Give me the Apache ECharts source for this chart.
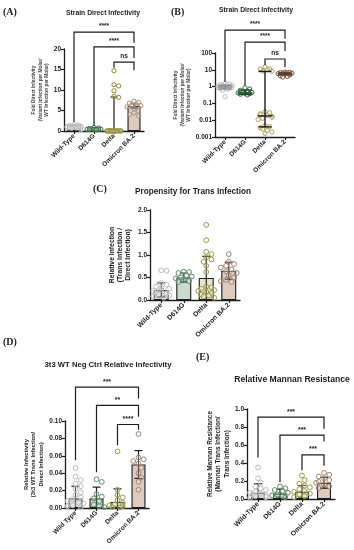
<!DOCTYPE html>
<html><head><meta charset="utf-8">
<script src="https://cdn.jsdelivr.net/npm/echarts@6/dist/echarts.min.js"></script>
<style>html,body{margin:0;padding:0;background:#fff}#c{width:354px;height:550px}</style>
</head><body><div id="c"></div>
<script>
// ---------- DATA ----------
const strains = ['Wild-Type', 'D614G', 'Delta', 'Omicron BA.2'];
const strainsD = ['Wild Type', 'D614G', 'Delta', 'Omicron BA.2'];

// Direct infectivity points (panels A & B)
const directWT = [1.55, 1.45, 1.35, 1.3, 1.2, 1.15, 1.1, 1.05, 1.0, 0.98, 0.95, 0.92, 0.9, 0.88, 0.85, 0.8, 0.75, 0.7, 0.62, 0.25];
const directD614G = [0.85, 0.72, 0.6, 0.52, 0.48, 0.45, 0.42, 0.4, 0.38, 0.35, 0.32];
const directDelta = [14.7, 11.3, 11.0, 9.8, 8.4, 8.2, 0.032, 0.028, 0.024, 0.021, 0.019, 0.017, 0.015, 0.013, 0.011, 0.0048, 0.0042, 0.0036, 0.003, 0.0025, 0.002, 0.0016];
const directOmicron = [7.3, 7.0, 6.8, 6.6, 6.4, 6.2, 5.9, 5.5, 4.9, 4.4, 4.0, 3.7];
// Panel A summary (bar height, error low/high)
const aBar = [1.0, 0.6, 0.3, 6.1];
const aErrLow = [0.7, 0.45, 0.3, 5.6];
const aErrHigh = [1.3, 0.75, 8.3, 6.6];
// Panel B summary (centre line, error low/high)
const bCenter = [0.95, 0.42, 0.018, 5.8];
const bErrLow = [0.72, 0.34, 0.004, 4.9];
const bErrHigh = [1.2, 0.62, 8.0, 6.6];
// Brackets: [from, to, level, left leg end, right leg end, label]
const aBrackets = [[0, 3, 24.1, 2.2, 21.5, '****'], [1, 3, 20.5, 1.3, 17.8, '****'], [2, 3, 16.8, 15.4, 14.8, 'ns']];
const bBrackets = [[0, 3, 2300, 1.9, 700, '****'], [1, 3, 450, 1.2, 130, '****'], [2, 3, 44, 19, 14, 'ns']];

// Panel C: propensity for trans infection
const cWT = [0.66, 0.65, 0.38, 0.34, 0.3, 0.27, 0.25, 0.22, 0.2, 0.18, 0.15, 0.12, 0.1, 0.08, 0.05];
const cD614G = [0.63, 0.62, 0.6, 0.55, 0.52, 0.5, 0.48, 0.45, 0.42, 0.4];
const cDelta = [1.67, 1.33, 1.07, 1.02, 0.95, 0.9, 0.85, 0.76, 0.62, 0.3, 0.28, 0.25, 0.22, 0.2, 0.18, 0.15, 0.12, 0.1, 0.08, 0.05];
const cOmicron = [1.02, 0.85, 0.8, 0.76, 0.72, 0.68, 0.64, 0.6, 0.55, 0.5, 0.45, 0.42, 0.4];
const cBar = [0.22, 0.50, 0.49, 0.65];
const cErrLow = [0.07, 0.40, 0.01, 0.46];
const cErrHigh = [0.38, 0.60, 0.97, 0.84];

// Panel D: 3t3 WT neg ctrl relative infectivity
const dWT = [0.046, 0.036, 0.032, 0.028, 0.025, 0.022, 0.018, 0.015, 0.012, 0.01, 0.008, 0.006, 0.005, 0.003, 0.002, 0.001];
const dD614G = [0.033, 0.03, 0.016, 0.013, 0.011, 0.008, 0.004, 0.002, 0.001];
const dDelta = [0.065, 0.021, 0.015, 0.012, 0.009, 0.006, 0.004, 0.003, 0.002, 0.001, 0.0005];
const dOmicron = [0.085, 0.058, 0.056, 0.054, 0.051, 0.046, 0.04, 0.035, 0.03, 0.021];
const dBar = [0.011, 0.011, 0.007, 0.050];
const dErrLow = [0, 0, 0, 0.034];
const dErrHigh = [0.025, 0.024, 0.022, 0.066];
const dBrackets = [[0, 3, 0.139, 0.055, 0.126, '***'], [1, 3, 0.118, 0.041, 0.105, '**'], [2, 3, 0.096, 0.072, 0.09, '****']];

// Panel E: relative mannan resistance
const eWT = [0.35, 0.23, 0.18, 0.14, 0.12, 0.1, 0.08, 0.07, 0.06, 0.05, 0.04, 0.03, 0.02, 0.01];
const eD614G = [0.14, 0.12, 0.1, 0.09, 0.07, 0.05, 0.04, 0.03, 0.02];
const eDelta = [0.26, 0.21, 0.17, 0.15, 0.13, 0.11, 0.09, 0.08, 0.06, 0.05, 0.03, 0.02];
const eOmicron = [0.29, 0.27, 0.25, 0.23, 0.21, 0.19, 0.18, 0.16, 0.14, 0.12];
const eBar = [0.07, 0.06, 0.08, 0.18];
const eErrLow = [0, 0.01, 0.01, 0.12];
const eErrHigh = [0.17, 0.11, 0.15, 0.24];
const eBrackets = [[0, 3, 0.91, 0.46, 0.78, '***'], [1, 3, 0.71, 0.19, 0.64, '***'], [2, 3, 0.49, 0.32, 0.37, '***']];

// ---------- STYLE ----------
const FONT = '"Liberation Sans", Arial, sans-serif';
const INK = '#1c1c1c';
const fills = ['#dcdcdc', '#c9dccc', '#e6e5c8', '#ddcbbf'];
const strokesA = ['#b9b9b9', '#3d7048', '#8c8a2e', '#a98d7a'];
const strokesB = ['#bdbdbd', '#2f6a3c', '#a6a35a', '#76543f'];
const strokesC = ['#bdbdbd', '#5b9166', '#9d9a48', '#a3826c'];
const lineColsB = ['#8d8d8d', '#1f4a29', '#1a1a1a', '#5a3b2a'];

const chart = echarts.init(document.getElementById('c'), null, { renderer: 'canvas' });

const grids = [
  { left: 64, top: 49, width: 80, height: 82 },   // A
  { left: 215, top: 53, width: 80, height: 84 },  // B
  { left: 150, top: 210, width: 90, height: 90 }, // C
  { left: 65, top: 421, width: 84, height: 87 },  // D
  { left: 247, top: 409, width: 88, height: 90 }  // E
];

function xAxisFor(i, cats, fs) {
  return {
    type: 'category', gridIndex: i, data: cats,
    axisLine: { lineStyle: { color: INK, width: 1.3 } },
    axisTick: { show: true, alignWithLabel: true, length: 3, lineStyle: { color: INK, width: 1.2 } },
    axisLabel: { rotate: 45, interval: 0, margin: 4, fontSize: fs, fontWeight: 'bold', color: INK, fontFamily: FONT },
    splitLine: { show: false }
  };
}
function yAxisFor(i, o) {
  return Object.assign({
    type: 'value', gridIndex: i,
    axisLine: { show: true, lineStyle: { color: INK, width: 1.3 } },
    axisTick: { show: true, length: 3, lineStyle: { color: INK, width: 1.2 } },
    axisLabel: { fontSize: 6.5, fontWeight: 'bold', color: INK, fontFamily: FONT, margin: 3, formatter: o.fmt },
    splitLine: { show: false },
    nameLocation: 'middle',
    nameTextStyle: { fontFamily: FONT, fontWeight: 'bold', color: o.nameColor || INK, fontSize: o.nameSize, lineHeight: o.nameLH }
  }, o.extra);
}

function swarmOffsets(api, c, vals, r) {
  const ys = vals.map(v => api.coord([c, v])[1]);
  const order = ys.map((y, i) => i).sort((a, b) => ys[a] - ys[b]);
  const placed = [];
  const off = new Array(vals.length).fill(0);
  const step = r * 1.1, R = r * 1.9, maxK = 3;
  const pat = [0, 2, -2, 1, -1, 3, -3];
  order.forEach((i, n) => {
    let chosen = null;
    for (let k = 0; k <= maxK && chosen === null; k++) {
      const cands = k === 0 ? [0] : [k * step, -k * step];
      for (const dx of cands) {
        if (placed.every(p => Math.hypot(p[0] - dx, p[1] - ys[i]) >= R)) { chosen = dx; break; }
      }
    }
    if (chosen === null) chosen = pat[n % pat.length] * step;
    off[i] = chosen;
    placed.push([chosen, ys[i]]);
  });
  return off;
}

function pointsSeries(gi, groups, strokes, r) {
  const data = [];
  groups.forEach((arr, c) => arr.forEach((v, j) => data.push([c, v, j])));
  return {
    type: 'custom', xAxisIndex: gi, yAxisIndex: gi, z: 4, clip: false,
    data: data,
    renderItem: function (params, api) {
      const c = api.value(0), v = api.value(1), j = api.value(2);
      const off = swarmOffsets(api, c, groups[c], r);
      const p = api.coord([c, v]);
      return { type: 'circle', shape: { cx: p[0] + off[j], cy: p[1], r: r },
        style: { fill: 'rgba(255,255,255,0.25)', stroke: strokes[c], lineWidth: 1 } };
    }
  };
}

function barSeries(gi, vals, bw) {
  return {
    type: 'bar', xAxisIndex: gi, yAxisIndex: gi, barWidth: bw, z: 2,
    data: vals.map((v, i) => ({ value: v, itemStyle: { color: fills[i], borderColor: INK, borderWidth: 1.1 } }))
  };
}

function errSeries(gi, lows, highs, capW, axisMin) {
  return {
    type: 'custom', xAxisIndex: gi, yAxisIndex: gi, z: 3, clip: false,
    data: lows.map((l, i) => [i, l, highs[i]]),
    renderItem: function (params, api) {
      const c = api.value(0);
      const lo = api.value(1), hi = api.value(2);
      const pl = api.coord([c, lo]), ph = api.coord([c, hi]);
      const kids = [
        { type: 'line', shape: { x1: ph[0], y1: pl[1], x2: ph[0], y2: ph[1] }, style: { stroke: INK, lineWidth: 1.2 } },
        { type: 'line', shape: { x1: ph[0] - capW / 2, y1: ph[1], x2: ph[0] + capW / 2, y2: ph[1] }, style: { stroke: INK, lineWidth: 1.2 } }
      ];
      if (lo > axisMin) kids.push({ type: 'line', shape: { x1: pl[0] - capW / 2, y1: pl[1], x2: pl[0] + capW / 2, y2: pl[1] }, style: { stroke: INK, lineWidth: 1.2 } });
      return { type: 'group', children: kids };
    }
  };
}

function centerSeries(gi, centers, lows, highs) {
  return {
    type: 'custom', xAxisIndex: gi, yAxisIndex: gi, z: 5, clip: false,
    data: centers.map((m, i) => [i, m, lows[i], highs[i]]),
    renderItem: function (params, api) {
      const c = api.value(0);
      const pm = api.coord([c, api.value(1)]), pl = api.coord([c, api.value(2)]), ph = api.coord([c, api.value(3)]);
      const col = lineColsB[c];
      const w = 7.5, cw = 6.5;
      const st = { stroke: col, lineWidth: 1.4 };
      return { type: 'group', children: [
        { type: 'line', shape: { x1: pm[0], y1: pl[1], x2: pm[0], y2: ph[1] }, style: st },
        { type: 'line', shape: { x1: pm[0] - w, y1: pm[1], x2: pm[0] + w, y2: pm[1] }, style: st },
        { type: 'line', shape: { x1: pm[0] - cw, y1: pl[1], x2: pm[0] + cw, y2: pl[1] }, style: st },
        { type: 'line', shape: { x1: pm[0] - cw, y1: ph[1], x2: pm[0] + cw, y2: ph[1] }, style: st }
      ] };
    }
  };
}

function bracketSeries(gi, brs, fs) {
  return {
    type: 'custom', xAxisIndex: gi, yAxisIndex: gi, z: 6, clip: false,
    data: brs.map(b => [b[0], b[2]]),
    renderItem: function (params, api) {
      const b = brs[params.dataIndex];
      const pL = api.coord([b[0], b[2]]), pR = api.coord([b[1], b[2]]);
      const lE = api.coord([b[0], b[3]])[1], rE = api.coord([b[1], b[4]])[1];
      return { type: 'group', children: [
        { type: 'polyline', shape: { points: [[pL[0], lE], [pL[0], pL[1]], [pR[0], pR[1]], [pR[0], rE]] },
          style: { stroke: INK, lineWidth: 1.2, fill: null } },
        { type: 'text', x: (pL[0] + pR[0]) / 2, y: pL[1] - 2,
          style: { text: b[5], align: 'center', verticalAlign: 'bottom', font: 'bold ' + fs + 'px ' + FONT, fill: INK } }
      ] };
    }
  };
}

function txt(text, x, y, size, opts) {
  opts = opts || {};
  return { type: 'text', x: x, y: y, style: { text: text, align: opts.align || 'center', verticalAlign: 'middle',
    font: 'bold ' + size + 'px ' + (opts.serif ? '"Liberation Serif", "Times New Roman", serif' : FONT), fill: INK } };
}

const option = {
  animation: false,
  backgroundColor: '#fff',
  grid: grids,
  xAxis: [
    xAxisFor(0, strains, 6.5), xAxisFor(1, strains, 6.5), xAxisFor(2, strains, 6.8),
    xAxisFor(3, strainsD, 6.5), xAxisFor(4, strains, 6.8)
  ],
  yAxis: [
    yAxisFor(0, { extra: { min: 0, max: 20, interval: 5, nameGap: 14,
      name: 'Fold Direct Infectivity\n(Variant Infection per Molar/\nWT Infection per Molar)' },
      nameSize: 4.8, nameLH: 6.3, nameColor: '#444' }),
    yAxisFor(1, { extra: { type: 'log', logBase: 10, min: 0.001, max: 100, nameGap: 21,
      name: 'Fold Direct Infectivity\n(Variant Infection per Molar/\nWT Infection per Molar)' },
      nameSize: 4.8, nameLH: 6.3, nameColor: '#444', fmt: v => String(v) }),
    yAxisFor(2, { extra: { min: 0, max: 2, interval: 0.5, nameGap: 18,
      name: 'Relative Infection\n(Trans Infection /\nDirect Infection)' },
      nameSize: 6.8, nameLH: 8, fmt: v => v.toFixed(1) }),
    yAxisFor(3, { extra: { min: 0, max: 0.1, interval: 0.02, nameGap: 20,
      name: 'Relative Infectivity\n(3t3 WT Trans Infection/\nDirect Infection)' },
      nameSize: 5.8, nameLH: 7.6, fmt: v => v.toFixed(2) }),
    yAxisFor(4, { extra: { min: 0, max: 1, interval: 0.2, nameGap: 14,
      name: 'Relative Mannan Resistance\n(Mannan Trans Infection/\nTrans Infection)' },
      nameSize: 6.4, nameLH: 8.4, fmt: v => v.toFixed(1) })
  ],
  series: [
    // A
    barSeries(0, aBar, 13),
    errSeries(0, aErrLow, aErrHigh, 7, 0),
    pointsSeries(0, [directWT, directD614G, directDelta, directOmicron], strokesA, 2.1),
    bracketSeries(0, aBrackets, 6.5),
    // B
    pointsSeries(1, [directWT, directD614G, directDelta, directOmicron], strokesB, 2.1),
    centerSeries(1, bCenter, bErrLow, bErrHigh),
    bracketSeries(1, bBrackets, 6.5),
    // C
    barSeries(2, cBar, 15),
    errSeries(2, cErrLow, cErrHigh, 8, 0),
    pointsSeries(2, [cWT, cD614G, cDelta, cOmicron], strokesC, 2.4),
    // D
    barSeries(3, dBar, 14),
    errSeries(3, dErrLow, dErrHigh, 8, 0),
    pointsSeries(3, [dWT, dD614G, dDelta, dOmicron], strokesC, 2.4),
    bracketSeries(3, dBrackets, 7),
    // E
    barSeries(4, eBar, 14),
    errSeries(4, eErrLow, eErrHigh, 8, 0),
    pointsSeries(4, [eWT, eD614G, eDelta, eOmicron], strokesC, 2.4),
    bracketSeries(4, eBrackets, 7)
  ],
  graphic: [
    txt('(A)', 3, 12, 10, { align: 'left', serif: true }),
    txt('Strain Direct Infectivity', 103, 13, 6.8),
    txt('(B)', 171, 12, 10, { align: 'left', serif: true }),
    txt('Strain Direct Infectivity', 256, 10, 6.8),
    txt('(C)', 93, 189, 10, { align: 'left', serif: true }),
    txt('Propensity for Trans Infection', 193, 192, 8.2),
    txt('(D)', 3, 342, 10, { align: 'left', serif: true }),
    txt('3t3 WT Neg Ctrl Relative Infectivity', 108, 365, 7.7),
    txt('(E)', 196, 357, 10, { align: 'left', serif: true }),
    txt('Relative Mannan Resistance', 292, 380, 8.6)
  ]
};
chart.setOption(option);
</script></body></html>
